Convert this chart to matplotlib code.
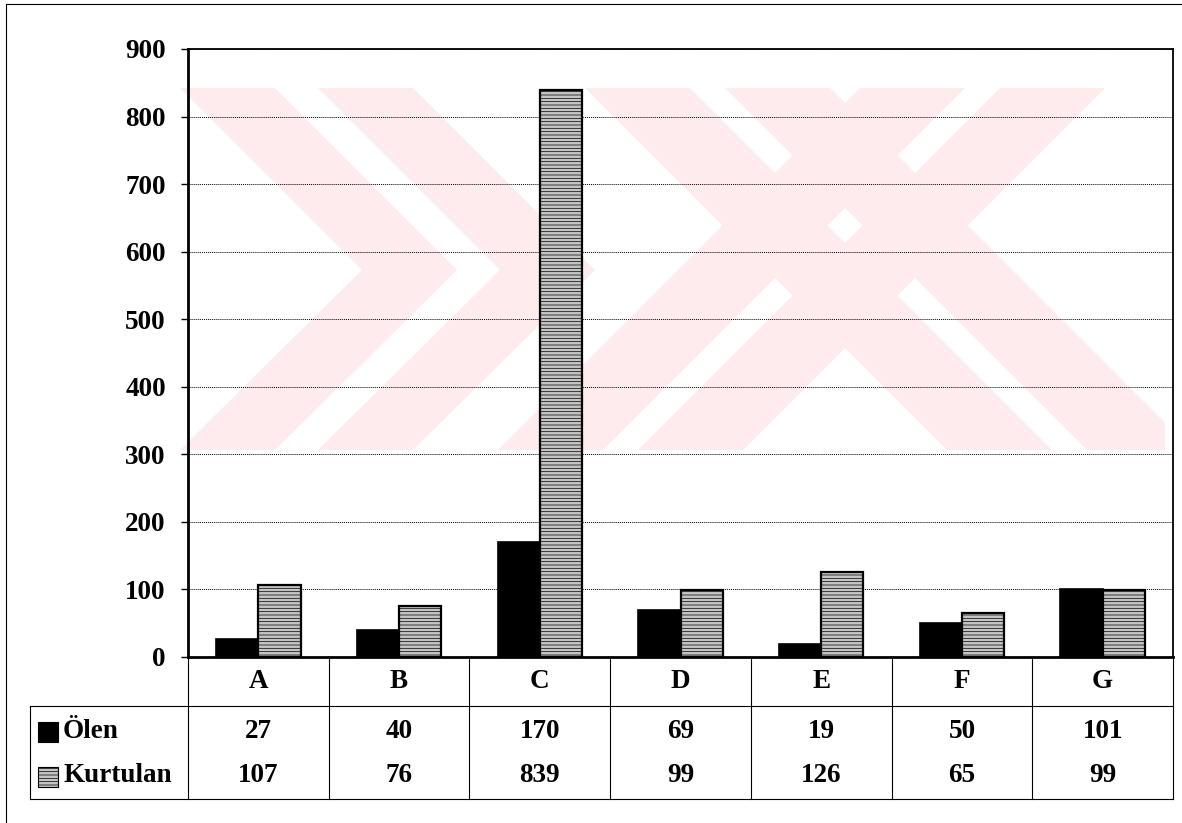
import numpy as np
import matplotlib
matplotlib.use("Agg")
from matplotlib import pyplot as plt
from matplotlib.patches import Polygon, Rectangle
from matplotlib.lines import Line2D
from matplotlib.transforms import blended_transform_factory

categories = ['A', 'B', 'C', 'D', 'E', 'F', 'G']
olen = [27, 40, 170, 69, 19, 50, 101]
kurtulan = [107, 76, 839, 99, 126, 65, 99]
series_names = ['Ölen', 'Kurtulan']
yticks = [0, 100, 200, 300, 400, 500, 600, 700, 800, 900]

W, H = 1182, 823
plt.rcParams['font.family'] = ['Liberation Serif', 'DejaVu Serif']
plt.rcParams['font.weight'] = 'bold'
plt.rcParams['hatch.color'] = '#9a9a9a'
plt.rcParams['hatch.linewidth'] = 0.5
FS = 19.5
GRAY = '#c4c4c4'

def fx(px):
    return px / W

def fy(py):
    return 1 - py / H

fig = plt.figure(figsize=(W / 100, H / 100), dpi=100)

# faint pink watermark behind the chart
pink = '#fdebee'
def quad(xt0, xt1, yt, xb0, xb1, yb):
    pts = [(fx(xt0), fy(yt)), (fx(xt1), fy(yt)), (fx(xb1), fy(yb)), (fx(xb0), fy(yb))]
    return pts

clip = Rectangle((fx(180), fy(450)), fx(1165) - fx(180), fy(88) - fy(450),
                 transform=fig.transFigure, visible=False)
fig.add_artist(clip)
shapes = []
for x0 in (180, 318):
    shapes.append(quad(x0, x0 + 95, 88, x0 + 182, x0 + 277, 270))
    shapes.append(quad(x0 + 182, x0 + 277, 270, x0, x0 + 95, 450))
for x0 in (860, 1000):
    shapes.append(quad(x0, x0 + 105, 88, x0 - 362, x0 - 257, 450))
for x0 in (585, 725):
    shapes.append(quad(x0, x0 + 105, 88, x0 + 362, x0 + 467, 450))
for pts in shapes:
    p = Polygon(pts, closed=True, transform=fig.transFigure, facecolor=pink,
                edgecolor='none', zorder=-5)
    p.set_clip_path(clip)
    fig.add_artist(p)

# outer frame (left and top only visible)
fig.add_artist(Line2D([fx(6), fx(6)], [fy(4), fy(823)], transform=fig.transFigure, color='black', lw=0.8))
fig.add_artist(Line2D([fx(6), fx(1182)], [fy(4), fy(4)], transform=fig.transFigure, color='black', lw=0.8))

ax = fig.add_axes([fx(188), fy(657), fx(1173) - fx(188), fy(49) - fy(657)])
ax.set_facecolor('none')

x = np.arange(len(categories))
bw = 0.3
ax.bar(x - bw / 2, olen, bw, color='black', edgecolor='black', linewidth=1.2, zorder=3)
ax.bar(x + bw / 2, kurtulan, bw, color=GRAY, edgecolor='black', linewidth=1.6,
       hatch='-----', zorder=3)

ax.set_xlim(-0.5, len(categories) - 0.5)
ax.set_ylim(0, 900)
ax.set_yticks(yticks)
ax.set_yticklabels([str(v) for v in yticks], fontsize=FS, fontweight='bold')
ax.tick_params(axis='y', direction='out', length=5, width=1, pad=11)
ax.set_xticks([])
ax.grid(axis='y', color='black', linestyle=(0, (1, 1)), linewidth=0.7, zorder=1)
ax.set_axisbelow(True)
for side in ['left', 'bottom']:
    ax.spines[side].set_linewidth(2.0)
for side in ['top', 'right']:
    ax.spines[side].set_linewidth(1.3)

# data table underneath the plot
tr = blended_transform_factory(ax.transData, fig.transFigure)
y_head, y_mid, y_bot = 657, 706, 799
line_kw = dict(color='black', lw=0.8)
for b in np.arange(-0.5, len(categories)):
    fig.add_artist(Line2D([b, b], [fy(y_head), fy(y_bot)], transform=tr, **line_kw))
fig.add_artist(Line2D([fx(30), fx(1173)], [fy(y_mid), fy(y_mid)], transform=fig.transFigure, **line_kw))
fig.add_artist(Line2D([fx(30), fx(1173)], [fy(y_bot), fy(y_bot)], transform=fig.transFigure, **line_kw))
fig.add_artist(Line2D([fx(30), fx(30)], [fy(y_mid), fy(y_bot)], transform=fig.transFigure, **line_kw))

for i, c in enumerate(categories):
    fig.text(i, fy(682), c, transform=tr, ha='center', va='center', fontsize=FS, fontweight='bold')
    fig.text(i, fy(731), str(olen[i]), transform=tr, ha='center', va='center', fontsize=FS, fontweight='bold')
    fig.text(i, fy(776), str(kurtulan[i]), transform=tr, ha='center', va='center', fontsize=FS, fontweight='bold')

# legend keys in the row labels
fig.add_artist(Rectangle((fx(38), fy(742)), fx(20), fy(722) - fy(742), transform=fig.transFigure,
                         facecolor='black', edgecolor='black', lw=0.8))
fig.add_artist(Rectangle((fx(38), fy(787)), fx(20), fy(767) - fy(787), transform=fig.transFigure,
                         facecolor=GRAY, edgecolor='black', lw=0.8, hatch='-----'))
fig.text(fx(63), fy(731), series_names[0], ha='left', va='center', fontsize=FS, fontweight='bold')
fig.text(fx(63), fy(776), series_names[1], ha='left', va='center', fontsize=FS, fontweight='bold')

fig.savefig('out.png', dpi=100)
